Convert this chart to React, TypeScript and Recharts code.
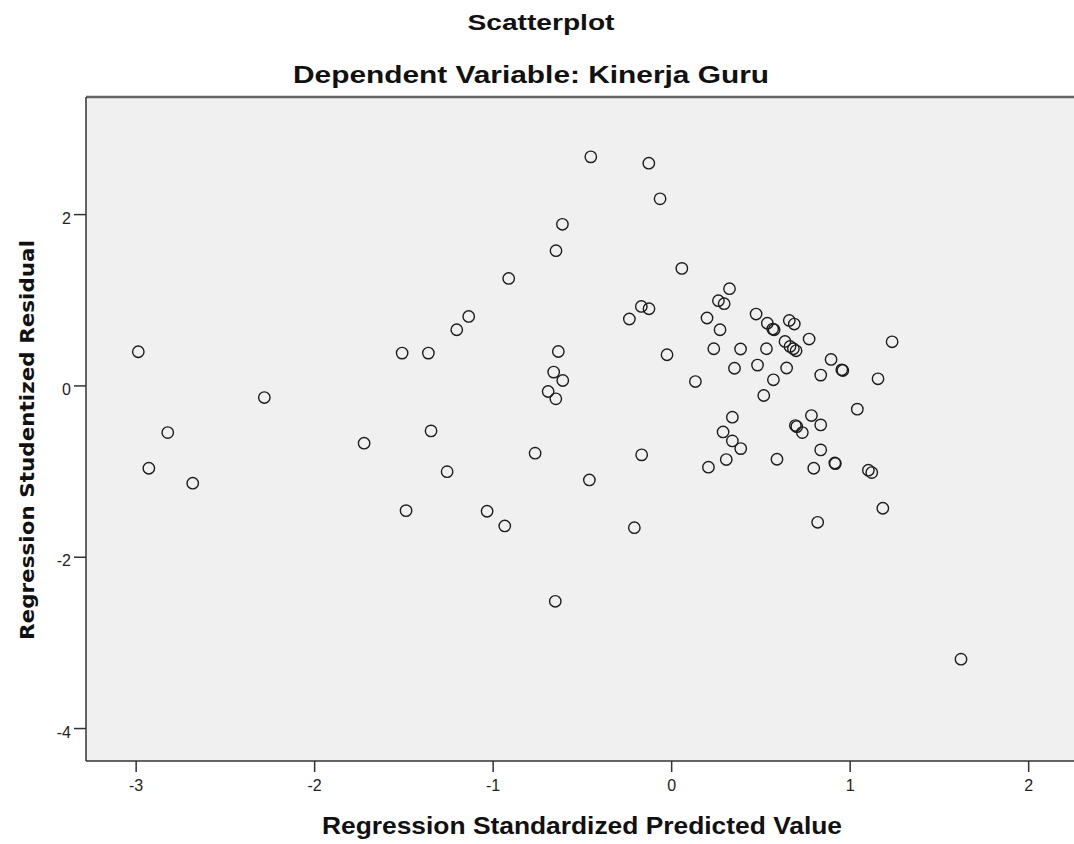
import { ScatterChart, Scatter, XAxis, YAxis, CartesianGrid, ReferenceLine } from "recharts";

// SPSS residual plot: Kinerja Guru
const predicted = [
  -2.988, -2.929, -2.823, -2.683, -2.282, -1.723, -1.510, -1.488, -1.363, -1.348,
  -1.258, -1.204, -1.137, -1.034, -0.935, -0.913, -0.765, -0.692, -0.661, -0.649,
  -0.648, -0.652, -0.635, -0.610, -0.612, -0.461, -0.453, -0.237, -0.209, -0.168,
  -0.170, -0.128, -0.127, -0.065, -0.026, 0.057, 0.133, 0.198, 0.206, 0.236,
  0.262, 0.294, 0.271, 0.288, 0.306, 0.324, 0.340, 0.340, 0.352, 0.387,
  0.386, 0.473, 0.481, 0.516, 0.531, 0.536, 0.566, 0.574, 0.570, 0.590,
  0.635, 0.644, 0.659, 0.663, 0.682, 0.687, 0.693, 0.697, 0.701, 0.732,
  0.770, 0.783, 0.796, 0.818, 0.835, 0.835, 0.835, 0.893, 0.914, 0.917,
  0.953, 0.959, 1.040, 1.102, 1.121, 1.156, 1.183, 1.235, 1.621,
];

const residual = [
  0.399, -0.961, -0.545, -1.136, -0.136, -0.669, 0.383, -1.456, 0.383, -0.525,
  -1.001, 0.656, 0.811, -1.463, -1.635, 1.255, -0.785, -0.065, 0.161, -0.151,
  1.579, -2.515, 0.402, 0.063, 1.887, -1.098, 2.674, 0.781, -1.655, -0.805,
  0.928, 2.600, 0.901, 2.184, 0.364, 1.372, 0.051, 0.793, -0.949, 0.434,
  0.995, 0.960, 0.656, -0.537, -0.860, 1.135, -0.365, -0.642, 0.206, -0.732,
  0.431, 0.839, 0.243, -0.112, 0.434, 0.732, 0.664, 0.656, 0.071, -0.856,
  0.519, 0.209, 0.764, 0.461, 0.434, 0.722, -0.463, 0.410, -0.475, -0.545,
  0.547, -0.346, -0.961, -1.592, 0.126, -0.455, -0.747, 0.309, -0.899, -0.907,
  0.188, 0.180, -0.271, -0.984, -1.012, 0.083, -1.428, 0.515, -3.190,
];

const xTicks = [-3, -2, -1, 0, 1, 2];
const yTicks = [-4, -2, 0, 2];

const X_MIN = -3.281;
const X_MAX = 2.254;
const Y_MIN = -4.379;
const Y_MAX = 3.373;

const points = predicted.map((x, i) => ({ x, y: residual[i] }));

const TITLE_FONT = '"Liberation Sans", Arial, sans-serif';

function RingDot(props: { cx?: number; cy?: number }) {
  if (props.cx == null || props.cy == null) return null;
  return <circle cx={props.cx} cy={props.cy} r={5.7} fill="none" stroke="#1c1c1c" strokeWidth={1.4} />;
}

function YTick(props: { x?: number; y?: number; payload?: { value: number } }) {
  const { x = 0, y = 0, payload } = props;
  return (
    <text x={x} y={y + 9} textAnchor="end" fill="#222" fontSize={16} fontFamily={TITLE_FONT}>
      {payload?.value}
    </text>
  );
}

export default function App() {
  return (
    <div style={{ position: "absolute", left: 0, top: 0, width: 1074, height: 844, background: "#fff", overflow: "hidden" }}>
      <ScatterChart width={1074} height={844} margin={{ top: 97, right: 0, left: 0, bottom: 0 }}>
        <CartesianGrid horizontal={false} vertical={false} fill="#f0f0f0" />
        <XAxis
          type="number"
          dataKey="x"
          domain={[X_MIN, X_MAX]}
          ticks={xTicks}
          allowDataOverflow
          height={83}
          tickSize={11}
          tickMargin={8}
          stroke="#333"
          strokeWidth={1.5}
          tick={{ fill: "#222", fontSize: 16, fontFamily: TITLE_FONT }}
        />
        <YAxis
          type="number"
          dataKey="y"
          domain={[Y_MIN, Y_MAX]}
          ticks={yTicks}
          allowDataOverflow
          width={86}
          tickSize={12}
          tickMargin={3}
          stroke="#333"
          strokeWidth={1.5}
          tick={<YTick />}
        />
        <ReferenceLine y={Y_MAX} stroke="#666" strokeWidth={2.5} />
        <Scatter data={points} shape={<RingDot />} isAnimationActive={false} />
      </ScatterChart>
      <svg width={1074} height={844} style={{ position: "absolute", left: 0, top: 0, pointerEvents: "none" }}>
        <text x={541} y={30} textAnchor="middle" fontFamily={TITLE_FONT} fontWeight="bold" fontSize={22}
          textLength={147} lengthAdjust="spacingAndGlyphs" fill="#111">Scatterplot</text>
        <text x={531} y={83} textAnchor="middle" fontFamily={TITLE_FONT} fontWeight="bold" fontSize={23}
          textLength={476} lengthAdjust="spacingAndGlyphs" fill="#111">Dependent Variable: Kinerja Guru</text>
        <text x={582} y={834} textAnchor="middle" fontFamily={TITLE_FONT} fontWeight="bold" fontSize={24}
          textLength={520} lengthAdjust="spacingAndGlyphs" fill="#111">Regression Standardized Predicted Value</text>
        <text x={34} y={440} transform="rotate(-90 34 440)" textAnchor="middle"
          fontFamily='"DejaVu Sans", sans-serif' fontWeight="bold" fontSize={20}
          textLength={400} lengthAdjust="spacingAndGlyphs" fill="#111">Regression Studentized Residual</text>
      </svg>
    </div>
  );
}
